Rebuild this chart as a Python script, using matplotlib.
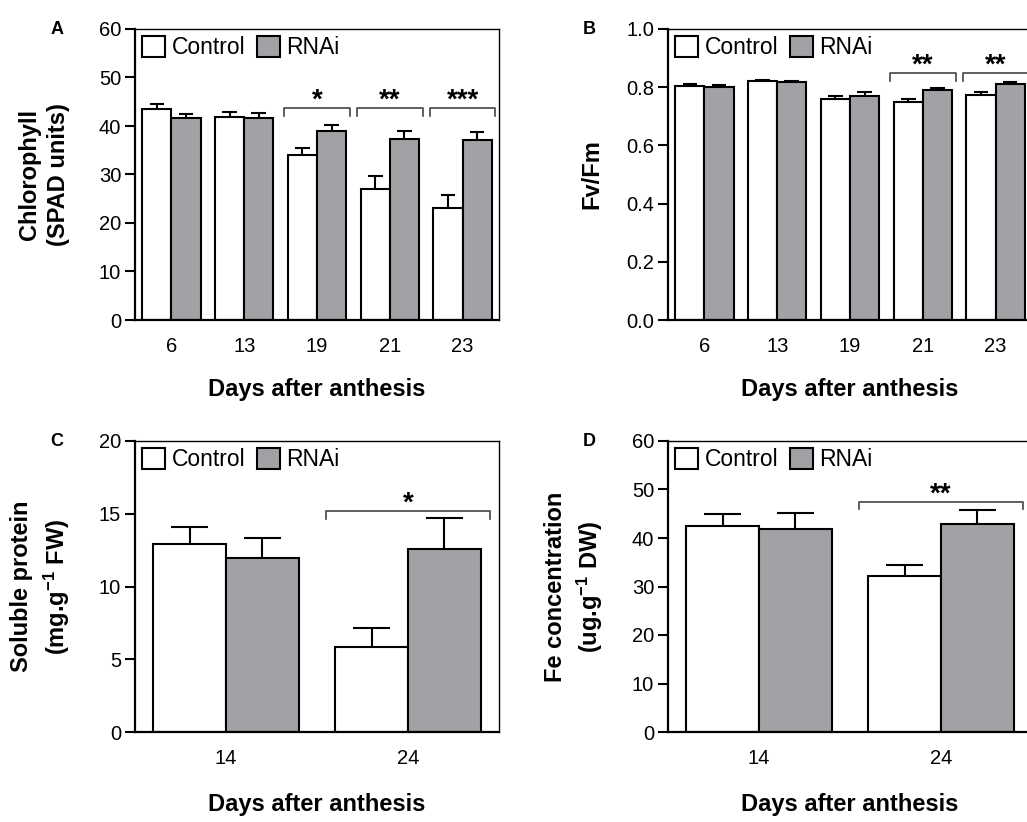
import numpy as np
import matplotlib
matplotlib.use("Agg")
import matplotlib.pyplot as plt
from matplotlib.patches import Patch

plt.rcParams["font.family"] = ["Liberation Sans", "DejaVu Sans"]
plt.rcParams["mathtext.fontset"] = "custom"
plt.rcParams["mathtext.rm"] = "Liberation Sans"
plt.rcParams["mathtext.bf"] = "Liberation Sans:bold"
plt.rcParams["mathtext.default"] = "bf"

GREY = "#a2a2a6"

# panel A - chlorophyll
days_a = ["6", "13", "19", "21", "23"]
chl_ctrl = [43.6, 41.9, 34.1, 27.1, 23.0]
chl_ctrl_err = [0.9, 1.0, 1.4, 2.6, 2.8]
chl_rnai = [41.6, 41.6, 38.9, 37.3, 37.2]
chl_rnai_err = [0.8, 1.1, 1.3, 1.6, 1.6]
chl_sig = {2: "*", 3: "**", 4: "***"}

# panel B - Fv/Fm
fvfm_ctrl = [0.805, 0.822, 0.760, 0.748, 0.772]
fvfm_ctrl_err = [0.006, 0.004, 0.010, 0.012, 0.013]
fvfm_rnai = [0.801, 0.818, 0.770, 0.790, 0.812]
fvfm_rnai_err = [0.005, 0.004, 0.012, 0.007, 0.006]
fvfm_sig = {3: "**", 4: "**"}

# panel C - soluble protein
days_c = ["14", "24"]
prot_ctrl = [12.95, 5.87]
prot_ctrl_err = [1.15, 1.25]
prot_rnai = [11.93, 12.6]
prot_rnai_err = [1.43, 2.1]
prot_sig = {1: "*"}

# panel D - Fe concentration
fe_ctrl = [42.5, 32.2]
fe_ctrl_err = [2.5, 2.15]
fe_rnai = [41.9, 42.95]
fe_rnai_err = [3.3, 2.75]
fe_sig = {1: "**"}


def panel(ax, labels, ctrl, ctrl_err, rnai, rnai_err, ymax, step, ylabel,
          letter, sig, sig_y, ylab_x, xlab_y, fmt="{:.0f}"):
    x = np.arange(len(labels))
    w = 0.4
    ax.bar(x - w / 2, ctrl, w, color="white", edgecolor="black", linewidth=1.5,
           zorder=2)
    ax.bar(x + w / 2, rnai, w, color=GREY, edgecolor="black", linewidth=1.5,
           zorder=2)
    for xs, v, e in [(x - w / 2, ctrl, ctrl_err), (x + w / 2, rnai, rnai_err)]:
        v = np.array(v)
        e = np.array(e)
        ax.vlines(xs, v, v + e, color="black", linewidth=1.5, zorder=1)
        ax.hlines(v + e, xs - 0.1, xs + 0.1, color="black", linewidth=1.5,
                  zorder=1)

    # significance brackets
    for i, s in sig.items():
        top, drop = sig_y
        ax.plot([i - 0.45, i - 0.45, i + 0.45, i + 0.45],
                [top - drop, top, top, top - drop], color="#444444",
                linewidth=1.2, clip_on=False)
        ax.annotate(s, (i, top), xytext=(0, 5), textcoords="offset points",
                    ha="center", va="center", fontsize=20, fontweight="bold",
                    annotation_clip=False)

    ax.set_xlim(-0.5, len(labels) - 0.5)
    ax.set_ylim(0, ymax)
    ticks = np.arange(0, ymax + step / 2, step)
    ax.set_yticks(ticks)
    ax.set_yticklabels([fmt.format(t) for t in ticks])
    ax.set_xticks(x)
    ax.set_xticklabels(labels)
    ax.tick_params(axis="x", length=0, pad=12, labelsize=14.5)
    ax.tick_params(axis="y", length=7, width=1.5, pad=3, labelsize=14.5,
                   direction="out")
    for side in ["left", "bottom"]:
        ax.spines[side].set_linewidth(1.6)
    for side in ["top", "right"]:
        ax.spines[side].set_linewidth(1.0)

    ax.text(0.5, xlab_y, "Days after anthesis", transform=ax.transAxes,
            ha="center", va="center", fontsize=17, fontweight="bold")
    ax.text(ylab_x, 0.5, ylabel, transform=ax.transAxes, rotation=90,
            ha="center", va="center", fontsize=17, fontweight="bold",
            linespacing=1.35, multialignment="center")
    ax.text(-0.215, 1.0, letter, transform=ax.transAxes, ha="center",
            va="center", fontsize=13, fontweight="bold")

    handles = [Patch(facecolor="white", edgecolor="black", linewidth=1.5),
               Patch(facecolor=GREY, edgecolor="black", linewidth=1.5)]
    ax.legend(handles, ["Control", "RNAi"], loc="upper left", ncol=2,
              frameon=False, fontsize=16.5, handlelength=1.0, handleheight=1.05,
              handletextpad=0.3, columnspacing=0.5, borderaxespad=0.2,
              borderpad=0.1)


fig = plt.figure(figsize=(10.27, 8.22), dpi=100)
W, H = 364 / 1027, 291 / 822
ax_a = fig.add_axes([135 / 1027, 502 / 822, W, H])
ax_b = fig.add_axes([668 / 1027, 502 / 822, W, H])
ax_c = fig.add_axes([135 / 1027, 90 / 822, W, H])
ax_d = fig.add_axes([668 / 1027, 90 / 822, W, H])

panel(ax_a, days_a, chl_ctrl, chl_ctrl_err, chl_rnai, chl_rnai_err, 60, 10,
      "Chlorophyll\n(SPAD units)", "A", chl_sig, (43.7, 1.7), -0.25, -0.24)
panel(ax_b, days_a, fvfm_ctrl, fvfm_ctrl_err, fvfm_rnai, fvfm_rnai_err, 1.0,
      0.2, "Fv/Fm", "B", fvfm_sig, (0.85, 0.03), -0.21, -0.24, fmt="{:.1f}")
panel(ax_c, days_c, prot_ctrl, prot_ctrl_err, prot_rnai, prot_rnai_err, 20, 5,
      "Soluble protein\n(mg.g$^{-1}$ FW)", "C", prot_sig, (15.2, 0.55),
      -0.258, -0.25)
panel(ax_d, days_c, fe_ctrl, fe_ctrl_err, fe_rnai, fe_rnai_err, 60, 10,
      "Fe concentration\n(ug.g$^{-1}$ DW)", "D", fe_sig, (47.5, 1.5),
      -0.256, -0.25)

fig.savefig("out.png", dpi=100)
